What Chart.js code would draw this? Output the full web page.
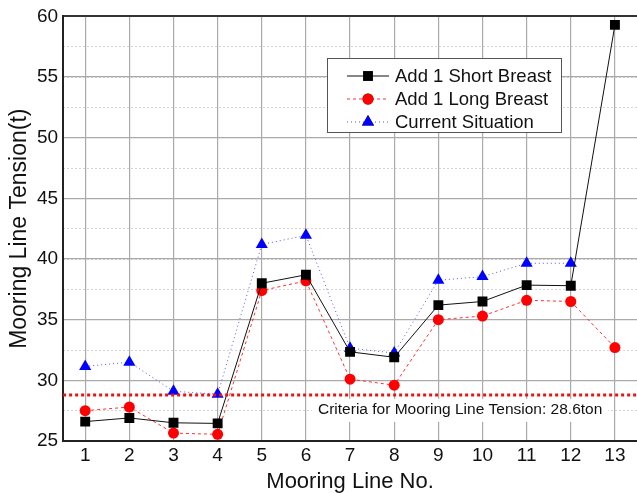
<!DOCTYPE html>
<html>
<head>
<meta charset="utf-8">
<script src="https://cdn.jsdelivr.net/npm/chart.js@4/dist/chart.umd.min.js"></script>
<style>
  html,body{margin:0;padding:0;background:#fff;}
  #wrap{width:637px;height:493px;}
</style>
</head>
<body>
<div id="wrap"><canvas id="c" width="637" height="493"></canvas></div>
<script>
// mooring line tensions
const lines = ['1','2','3','4','5','6','7','8','9','10','11','12','13'];
const shortBreast = [26.6, 26.9, 26.5, 26.45, 38.0, 38.7, 32.35, 31.9, 36.2, 36.5, 37.85, 37.8, 59.3];
const longBreast  = [27.5, 27.8, 25.65, 25.55, 37.4, 38.2, 30.1, 29.6, 35.0, 35.3, 36.6, 36.5, 32.7];
const current     = [31.15, 31.5, 29.1, 28.85, 41.2, 41.95, 32.65, 32.25, 38.25, 38.55, 39.65, 39.65, null];
const criteria = 28.8;
const criteriaLabel = 'Criteria for Mooring Line Tension: 28.6ton';

const FONT = 'Arial, "Liberation Sans", sans-serif';

// criteria line + its label + the boxed legend inside the plot
const extras = {
  id: 'extras',
  afterDatasetsDraw(chart){
    const {ctx, chartArea: a, scales} = chart;
    const y = scales.y.getPixelForValue(criteria);
    ctx.save();
    ctx.font = '15.5px ' + FONT;
    const tw = ctx.measureText(criteriaLabel).width;
    const lx = 318, ly = y + 15;
    ctx.fillStyle = '#fff';
    ctx.fillRect(lx - 6, ly - 11, tw + 12, 23);
    ctx.fillStyle = '#111';
    ctx.textBaseline = 'middle';
    ctx.fillText(criteriaLabel, lx, ly);
    ctx.strokeStyle = '#ee1111';
    ctx.lineWidth = 3;
    ctx.setLineDash([3, 3]);
    ctx.beginPath();
    ctx.moveTo(a.left, y);
    ctx.lineTo(a.right, y);
    ctx.stroke();
    ctx.restore();
  },
  afterDraw(chart){
    const {ctx} = chart;
    const bx = 327, by = 58, bw = 234, bh = 74;
    ctx.save();
    ctx.fillStyle = '#fff';
    ctx.fillRect(bx, by, bw, bh);
    ctx.strokeStyle = '#555';
    ctx.lineWidth = 1;
    ctx.strokeRect(bx + 0.5, by + 0.5, bw, bh);
    ctx.font = '18.5px ' + FONT;
    ctx.textBaseline = 'middle';
    chart.data.datasets.forEach((ds, i) => {
      const yy = by + 18 + i * 23;
      ctx.strokeStyle = ds.borderColor;
      ctx.lineWidth = 1;
      ctx.setLineDash(ds.borderDash || []);
      ctx.beginPath();
      ctx.moveTo(bx + 20, yy);
      ctx.lineTo(bx + 62, yy);
      ctx.stroke();
      ctx.setLineDash([]);
      Chart.helpers.drawPoint(ctx, {pointStyle: ds.pointStyle, radius: ds.pointRadius, borderWidth: 0}, bx + 41, yy);
      ctx.fillStyle = ds.pointBackgroundColor;
      ctx.fill();
      ctx.fillStyle = '#111';
      ctx.fillText(ds.label, bx + 68, yy + 1);
    });
    ctx.restore();
  }
};

new Chart(document.getElementById('c'), {
  type: 'line',
  data: {
    labels: lines,
    datasets: [
      { label: 'Add 1 Short Breast', data: shortBreast, borderColor: '#111', borderWidth: 1,
        pointStyle: 'rect', pointRadius: 7, pointBackgroundColor: '#000', pointBorderWidth: 0 },
      { label: 'Add 1 Long Breast', data: longBreast, borderColor: '#ff3030', borderWidth: 1, borderDash: [3, 3],
        pointStyle: 'circle', pointRadius: 5.5, pointBackgroundColor: '#ff0000', pointBorderWidth: 0 },
      { label: 'Current Situation', data: current, borderColor: '#5555ee', borderWidth: 1, borderDash: [1, 3],
        pointStyle: 'triangle', pointRadius: 7, pointBackgroundColor: '#0000ff', pointBorderWidth: 0 }
    ]
  },
  options: {
    responsive: false,
    animation: false,
    layout: { autoPadding: false, padding: { top: 11, right: 0, left: 8, bottom: 0 } },
    plugins: { legend: { display: false }, tooltip: { enabled: false } },
    scales: {
      x: {
        offset: true,
        afterFit: s => { s.paddingRight = 0; },
        grid: { offset: false, color: '#aaa', lineWidth: 1.2, drawTicks: false },
        border: { color: '#222', width: 2 },
        ticks: { color: '#111', font: { size: 19, family: FONT, lineHeight: 1 }, padding: 5 },
        title: { display: true, text: 'Mooring Line No.', color: '#111', font: { size: 22, family: FONT, lineHeight: 1 }, padding: { top: 1, bottom: 0 } }
      },
      y2: {
        min: 25, max: 60, position: 'left',
        grid: { color: '#d4d4d4', lineWidth: 1, drawTicks: false },
        border: { display: false, dash: [2, 2] },
        ticks: { display: false, stepSize: 2.5 }
      },
      y: {
        min: 25, max: 60, position: 'left',
        grid: { color: c => c.tick && c.tick.value === 60 ? '#333' : '#aaa', lineWidth: c => c.tick && c.tick.value === 60 ? 2 : 1.2, drawTicks: false },
        border: { color: '#222', width: 2 },
        ticks: { stepSize: 5, color: '#111', font: { size: 19, family: FONT }, padding: 5 },
        title: { display: true, text: 'Mooring Line Tension(t)', color: '#111', font: { size: 23, family: FONT, lineHeight: 1 }, padding: { top: 0, bottom: 1 } }
      }
    }
  },
  plugins: [extras]
});
</script>
</body>
</html>
